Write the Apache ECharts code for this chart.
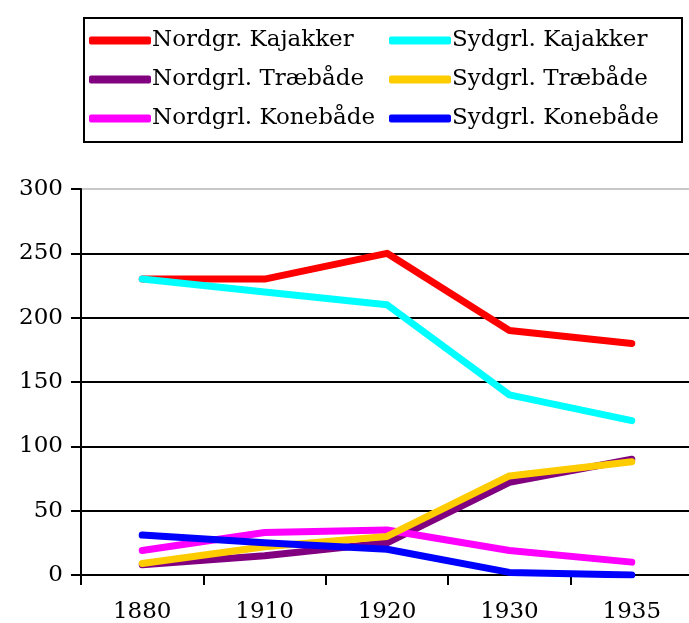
<!DOCTYPE html>
<html>
<head>
<meta charset="utf-8">
<script src="https://cdn.jsdelivr.net/npm/echarts@6/dist/echarts.min.js"></script>
<style>
  html, body { margin: 0; padding: 0; background: #fff; }
  #chart { width: 689px; height: 623px; }
</style>
</head>
<body>
<div id="chart"></div>
<script>
// data
const years = ['1880', '1910', '1920', '1930', '1935'];
const nordKajakker = [230, 230, 250, 190, 180];
const nordTraebaade = [8, 15, 25, 72, 90];
const nordKonebaade = [19, 33, 35, 19, 10];
const sydKajakker = [230, 220, 210, 140, 120];
const sydTraebaade = [9, 22, 30, 77, 88];
const sydKonebaade = [31, 25, 20, 2, 0];
const yTicks = [0, 50, 100, 150, 200, 250, 300];

const FONT = 'DejaVu Serif';

const seriesList = [
    { name: 'Nordgr. Kajakker', data: nordKajakker, color: '#ff0000' },
    { name: 'Nordgrl. Træbåde', data: nordTraebaade, color: '#800080' },
    { name: 'Nordgrl. Konebåde', data: nordKonebaade, color: '#ff00ff' },
    { name: 'Sydgrl. Kajakker', data: sydKajakker, color: '#00ffff' },
    { name: 'Sydgrl. Træbåde', data: sydTraebaade, color: '#ffcc00' },
    { name: 'Sydgrl. Konebåde', data: sydKonebaade, color: '#0000ff' }
];

// legend in two columns, like the original
const legendBase = {
    orient: 'vertical',
    top: 23,
    icon: 'roundRect',
    itemWidth: 62,
    itemHeight: 8,
    itemGap: 14,
    selectedMode: false,
    textStyle: { fontFamily: FONT, fontSize: 23, color: '#000', padding: [0, 0, 0, -4], lineHeight: 25 }
};

const chart = echarts.init(document.getElementById('chart'));
chart.setOption({
    animation: false,
    graphic: [{
        type: 'rect',
        shape: { x: 84, y: 18, width: 598, height: 124 },
        style: { fill: 'none', stroke: '#000', lineWidth: 2 }
    }],
    legend: [
        Object.assign({}, legendBase, { left: 84, data: seriesList.slice(0, 3).map(s => s.name) }),
        Object.assign({}, legendBase, { left: 384, data: seriesList.slice(3).map(s => s.name) })
    ],
    grid: { left: 81, right: -4, top: 189, bottom: 48, outerBoundsMode: 'none' },
    xAxis: {
        type: 'category',
        data: years,
        boundaryGap: true,
        axisLine: { lineStyle: { color: '#000', width: 2 } },
        axisTick: { show: true, length: 10, lineStyle: { color: '#000', width: 2 } },
        axisLabel: { color: '#000', fontFamily: FONT, fontSize: 23, margin: 26 }
    },
    yAxis: {
        type: 'value',
        min: yTicks[0],
        max: yTicks[yTicks.length - 1],
        interval: 50,
        axisLine: { show: true, lineStyle: { color: '#000', width: 2 } },
        axisTick: { show: true, length: 10, lineStyle: { color: '#000', width: 2 } },
        axisLabel: { color: '#000', fontFamily: FONT, fontSize: 23, margin: 18 },
        splitLine: {
            show: true,
            lineStyle: { color: ['#000', '#000', '#000', '#000', '#000', '#000', '#c8c8c8'], width: 2 }
        }
    },
    series: seriesList.map(s => ({
        name: s.name,
        type: 'line',
        data: s.data,
        symbol: 'none',
        color: s.color,
        lineStyle: { width: 7, color: s.color, cap: 'round', join: 'round' }
    }))
});
</script>
</body>
</html>
